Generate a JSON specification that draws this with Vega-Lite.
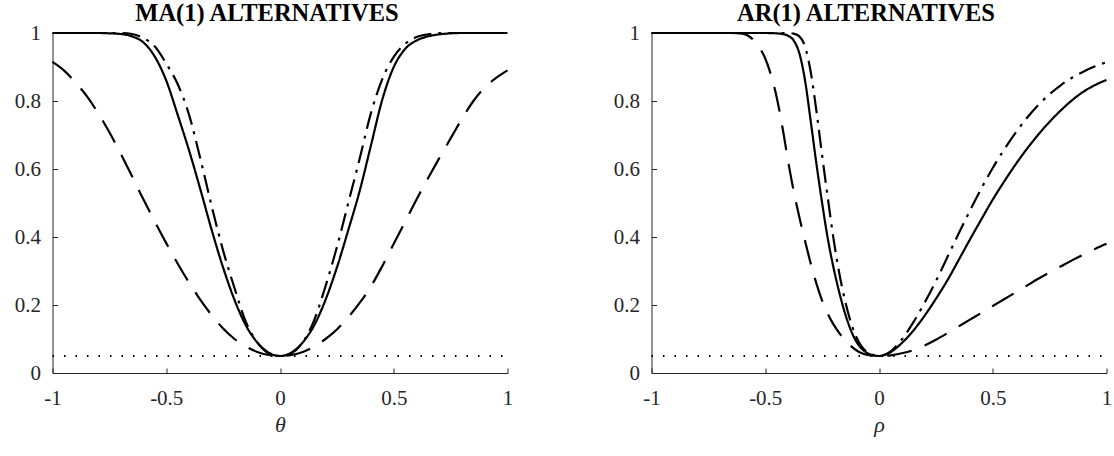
{
"$schema":"https://vega.github.io/schema/vega-lite/v6.json",
"background":"white",
"padding":{"left":13.5,"top":0,"right":5,"bottom":5},
"spacing":144,
"bounds":"flush",
"config":{
 "view":{"stroke":null},
 "font":"Liberation Serif",
 "axis":{"grid":false,"domainColor":"#262626","tickColor":"#262626","labelColor":"#262626","labelFont":"Liberation Serif","labelFontSize":21,"tickSize":-5,"domainWidth":1,"tickWidth":1,"titleFont":"Liberation Serif","titleFontWeight":"normal","titleFontStyle":"italic","titleFontSize":22,"titleColor":"#262626"},
 "title":{"font":"Liberation Serif","fontSize":24.5,"fontWeight":"bold","color":"#000000","offset":-4,"dx":-13}
},
"datasets":{
"ma":[
{"x":-1,"p":1,"s":"solid"},{"x":-0.95,"p":1,"s":"solid"},{"x":-0.9,"p":1,"s":"solid"},{"x":-0.85,"p":1,"s":"solid"},{"x":-0.8,"p":1,"s":"solid"},{"x":-0.75,"p":0.999,"s":"solid"},{"x":-0.7,"p":0.997,"s":"solid"},{"x":-0.65,"p":0.99,"s":"solid"},{"x":-0.6,"p":0.972,"s":"solid"},{"x":-0.55,"p":0.93,"s":"solid"},{"x":-0.5,"p":0.86,"s":"solid"},{"x":-0.45,"p":0.76,"s":"solid"},{"x":-0.4,"p":0.655,"s":"solid"},{"x":-0.35,"p":0.54,"s":"solid"},{"x":-0.3,"p":0.42,"s":"solid"},{"x":-0.25,"p":0.31,"s":"solid"},{"x":-0.2,"p":0.215,"s":"solid"},{"x":-0.15,"p":0.14,"s":"solid"},{"x":-0.1,"p":0.09,"s":"solid"},{"x":-0.05,"p":0.06,"s":"solid"},{"x":0,"p":0.05,"s":"solid"},{"x":0.05,"p":0.06,"s":"solid"},{"x":0.1,"p":0.09,"s":"solid"},{"x":0.15,"p":0.14,"s":"solid"},{"x":0.2,"p":0.215,"s":"solid"},{"x":0.25,"p":0.31,"s":"solid"},{"x":0.3,"p":0.42,"s":"solid"},{"x":0.35,"p":0.535,"s":"solid"},{"x":0.4,"p":0.67,"s":"solid"},{"x":0.45,"p":0.805,"s":"solid"},{"x":0.5,"p":0.9,"s":"solid"},{"x":0.55,"p":0.953,"s":"solid"},{"x":0.6,"p":0.978,"s":"solid"},{"x":0.65,"p":0.99,"s":"solid"},{"x":0.7,"p":0.996,"s":"solid"},{"x":0.75,"p":0.999,"s":"solid"},{"x":0.8,"p":1,"s":"solid"},{"x":0.85,"p":1,"s":"solid"},{"x":0.9,"p":1,"s":"solid"},{"x":0.95,"p":1,"s":"solid"},{"x":1,"p":1,"s":"solid"},
{"x":-1,"p":1,"s":"dashdot"},{"x":-0.9,"p":1,"s":"dashdot"},{"x":-0.8,"p":1,"s":"dashdot"},{"x":-0.7,"p":1,"s":"dashdot"},{"x":-0.65,"p":0.997,"s":"dashdot"},{"x":-0.6,"p":0.985,"s":"dashdot"},{"x":-0.55,"p":0.96,"s":"dashdot"},{"x":-0.5,"p":0.91,"s":"dashdot"},{"x":-0.45,"p":0.85,"s":"dashdot"},{"x":-0.4,"p":0.76,"s":"dashdot"},{"x":-0.35,"p":0.63,"s":"dashdot"},{"x":-0.3,"p":0.49,"s":"dashdot"},{"x":-0.25,"p":0.36,"s":"dashdot"},{"x":-0.2,"p":0.25,"s":"dashdot"},{"x":-0.15,"p":0.15,"s":"dashdot"},{"x":-0.1,"p":0.09,"s":"dashdot"},{"x":-0.05,"p":0.058,"s":"dashdot"},{"x":0,"p":0.05,"s":"dashdot"},{"x":0.05,"p":0.058,"s":"dashdot"},{"x":0.1,"p":0.09,"s":"dashdot"},{"x":0.15,"p":0.155,"s":"dashdot"},{"x":0.2,"p":0.255,"s":"dashdot"},{"x":0.25,"p":0.37,"s":"dashdot"},{"x":0.3,"p":0.5,"s":"dashdot"},{"x":0.35,"p":0.63,"s":"dashdot"},{"x":0.4,"p":0.765,"s":"dashdot"},{"x":0.45,"p":0.865,"s":"dashdot"},{"x":0.5,"p":0.93,"s":"dashdot"},{"x":0.55,"p":0.968,"s":"dashdot"},{"x":0.6,"p":0.988,"s":"dashdot"},{"x":0.65,"p":0.996,"s":"dashdot"},{"x":0.7,"p":1,"s":"dashdot"},{"x":0.8,"p":1,"s":"dashdot"},{"x":0.9,"p":1,"s":"dashdot"},{"x":1,"p":1,"s":"dashdot"},
{"x":-1,"p":0.915,"s":"dashed"},{"x":-0.95,"p":0.89,"s":"dashed"},{"x":-0.9,"p":0.855,"s":"dashed"},{"x":-0.85,"p":0.815,"s":"dashed"},{"x":-0.8,"p":0.765,"s":"dashed"},{"x":-0.75,"p":0.708,"s":"dashed"},{"x":-0.7,"p":0.645,"s":"dashed"},{"x":-0.65,"p":0.578,"s":"dashed"},{"x":-0.6,"p":0.51,"s":"dashed"},{"x":-0.55,"p":0.445,"s":"dashed"},{"x":-0.5,"p":0.382,"s":"dashed"},{"x":-0.45,"p":0.322,"s":"dashed"},{"x":-0.4,"p":0.266,"s":"dashed"},{"x":-0.35,"p":0.215,"s":"dashed"},{"x":-0.3,"p":0.17,"s":"dashed"},{"x":-0.25,"p":0.131,"s":"dashed"},{"x":-0.2,"p":0.1,"s":"dashed"},{"x":-0.15,"p":0.078,"s":"dashed"},{"x":-0.1,"p":0.062,"s":"dashed"},{"x":-0.05,"p":0.053,"s":"dashed"},{"x":0,"p":0.05,"s":"dashed"},{"x":0.05,"p":0.053,"s":"dashed"},{"x":0.1,"p":0.062,"s":"dashed"},{"x":0.15,"p":0.078,"s":"dashed"},{"x":0.2,"p":0.1,"s":"dashed"},{"x":0.25,"p":0.128,"s":"dashed"},{"x":0.3,"p":0.164,"s":"dashed"},{"x":0.35,"p":0.206,"s":"dashed"},{"x":0.4,"p":0.255,"s":"dashed"},{"x":0.45,"p":0.315,"s":"dashed"},{"x":0.5,"p":0.38,"s":"dashed"},{"x":0.55,"p":0.445,"s":"dashed"},{"x":0.6,"p":0.51,"s":"dashed"},{"x":0.65,"p":0.572,"s":"dashed"},{"x":0.7,"p":0.632,"s":"dashed"},{"x":0.75,"p":0.69,"s":"dashed"},{"x":0.8,"p":0.748,"s":"dashed"},{"x":0.85,"p":0.8,"s":"dashed"},{"x":0.9,"p":0.84,"s":"dashed"},{"x":0.95,"p":0.868,"s":"dashed"},{"x":1,"p":0.89,"s":"dashed"},
{"x":-1,"p":0.05,"s":"level"},{"x":1,"p":0.05,"s":"level"}
],
"ar":[
{"x":-1,"p":1,"s":"solid"},{"x":-0.9,"p":1,"s":"solid"},{"x":-0.8,"p":1,"s":"solid"},{"x":-0.7,"p":1,"s":"solid"},{"x":-0.6,"p":1,"s":"solid"},{"x":-0.5,"p":1,"s":"solid"},{"x":-0.45,"p":0.999,"s":"solid"},{"x":-0.425,"p":0.997,"s":"solid"},{"x":-0.4,"p":0.992,"s":"solid"},{"x":-0.375,"p":0.978,"s":"solid"},{"x":-0.35,"p":0.94,"s":"solid"},{"x":-0.325,"p":0.86,"s":"solid"},{"x":-0.3,"p":0.74,"s":"solid"},{"x":-0.275,"p":0.615,"s":"solid"},{"x":-0.25,"p":0.5,"s":"solid"},{"x":-0.225,"p":0.395,"s":"solid"},{"x":-0.2,"p":0.31,"s":"solid"},{"x":-0.175,"p":0.238,"s":"solid"},{"x":-0.15,"p":0.177,"s":"solid"},{"x":-0.125,"p":0.128,"s":"solid"},{"x":-0.1,"p":0.093,"s":"solid"},{"x":-0.075,"p":0.071,"s":"solid"},{"x":-0.05,"p":0.058,"s":"solid"},{"x":-0.025,"p":0.052,"s":"solid"},{"x":0,"p":0.05,"s":"solid"},{"x":0.05,"p":0.061,"s":"solid"},{"x":0.1,"p":0.088,"s":"solid"},{"x":0.15,"p":0.124,"s":"solid"},{"x":0.2,"p":0.168,"s":"solid"},{"x":0.25,"p":0.218,"s":"solid"},{"x":0.3,"p":0.272,"s":"solid"},{"x":0.35,"p":0.332,"s":"solid"},{"x":0.4,"p":0.393,"s":"solid"},{"x":0.45,"p":0.452,"s":"solid"},{"x":0.5,"p":0.51,"s":"solid"},{"x":0.55,"p":0.563,"s":"solid"},{"x":0.6,"p":0.613,"s":"solid"},{"x":0.65,"p":0.659,"s":"solid"},{"x":0.7,"p":0.701,"s":"solid"},{"x":0.75,"p":0.739,"s":"solid"},{"x":0.8,"p":0.773,"s":"solid"},{"x":0.85,"p":0.803,"s":"solid"},{"x":0.9,"p":0.828,"s":"solid"},{"x":0.95,"p":0.847,"s":"solid"},{"x":1,"p":0.862,"s":"solid"},
{"x":-1,"p":1,"s":"dashdot"},{"x":-0.8,"p":1,"s":"dashdot"},{"x":-0.6,"p":1,"s":"dashdot"},{"x":-0.4,"p":1,"s":"dashdot"},{"x":-0.375,"p":0.998,"s":"dashdot"},{"x":-0.35,"p":0.99,"s":"dashdot"},{"x":-0.325,"p":0.96,"s":"dashdot"},{"x":-0.3,"p":0.885,"s":"dashdot"},{"x":-0.275,"p":0.77,"s":"dashdot"},{"x":-0.25,"p":0.64,"s":"dashdot"},{"x":-0.225,"p":0.515,"s":"dashdot"},{"x":-0.2,"p":0.395,"s":"dashdot"},{"x":-0.175,"p":0.295,"s":"dashdot"},{"x":-0.15,"p":0.215,"s":"dashdot"},{"x":-0.125,"p":0.152,"s":"dashdot"},{"x":-0.1,"p":0.106,"s":"dashdot"},{"x":-0.075,"p":0.077,"s":"dashdot"},{"x":-0.05,"p":0.061,"s":"dashdot"},{"x":-0.025,"p":0.053,"s":"dashdot"},{"x":0,"p":0.05,"s":"dashdot"},{"x":0.05,"p":0.063,"s":"dashdot"},{"x":0.1,"p":0.098,"s":"dashdot"},{"x":0.15,"p":0.148,"s":"dashdot"},{"x":0.2,"p":0.206,"s":"dashdot"},{"x":0.25,"p":0.27,"s":"dashdot"},{"x":0.3,"p":0.34,"s":"dashdot"},{"x":0.35,"p":0.41,"s":"dashdot"},{"x":0.4,"p":0.478,"s":"dashdot"},{"x":0.45,"p":0.543,"s":"dashdot"},{"x":0.5,"p":0.603,"s":"dashdot"},{"x":0.55,"p":0.657,"s":"dashdot"},{"x":0.6,"p":0.706,"s":"dashdot"},{"x":0.65,"p":0.75,"s":"dashdot"},{"x":0.7,"p":0.788,"s":"dashdot"},{"x":0.75,"p":0.82,"s":"dashdot"},{"x":0.8,"p":0.847,"s":"dashdot"},{"x":0.85,"p":0.869,"s":"dashdot"},{"x":0.9,"p":0.887,"s":"dashdot"},{"x":0.95,"p":0.902,"s":"dashdot"},{"x":1,"p":0.914,"s":"dashdot"},
{"x":-1,"p":1,"s":"dashed"},{"x":-0.8,"p":1,"s":"dashed"},{"x":-0.65,"p":1,"s":"dashed"},{"x":-0.6,"p":0.998,"s":"dashed"},{"x":-0.575,"p":0.992,"s":"dashed"},{"x":-0.55,"p":0.978,"s":"dashed"},{"x":-0.525,"p":0.957,"s":"dashed"},{"x":-0.5,"p":0.925,"s":"dashed"},{"x":-0.475,"p":0.877,"s":"dashed"},{"x":-0.45,"p":0.812,"s":"dashed"},{"x":-0.425,"p":0.725,"s":"dashed"},{"x":-0.4,"p":0.625,"s":"dashed"},{"x":-0.375,"p":0.535,"s":"dashed"},{"x":-0.35,"p":0.458,"s":"dashed"},{"x":-0.325,"p":0.388,"s":"dashed"},{"x":-0.3,"p":0.322,"s":"dashed"},{"x":-0.275,"p":0.263,"s":"dashed"},{"x":-0.25,"p":0.213,"s":"dashed"},{"x":-0.225,"p":0.174,"s":"dashed"},{"x":-0.2,"p":0.143,"s":"dashed"},{"x":-0.175,"p":0.118,"s":"dashed"},{"x":-0.15,"p":0.097,"s":"dashed"},{"x":-0.125,"p":0.08,"s":"dashed"},{"x":-0.1,"p":0.067,"s":"dashed"},{"x":-0.075,"p":0.058,"s":"dashed"},{"x":-0.05,"p":0.053,"s":"dashed"},{"x":-0.025,"p":0.051,"s":"dashed"},{"x":0,"p":0.05,"s":"dashed"},{"x":0.05,"p":0.052,"s":"dashed"},{"x":0.1,"p":0.058,"s":"dashed"},{"x":0.15,"p":0.067,"s":"dashed"},{"x":0.2,"p":0.081,"s":"dashed"},{"x":0.25,"p":0.098,"s":"dashed"},{"x":0.3,"p":0.117,"s":"dashed"},{"x":0.35,"p":0.137,"s":"dashed"},{"x":0.4,"p":0.157,"s":"dashed"},{"x":0.45,"p":0.177,"s":"dashed"},{"x":0.5,"p":0.197,"s":"dashed"},{"x":0.55,"p":0.217,"s":"dashed"},{"x":0.6,"p":0.237,"s":"dashed"},{"x":0.65,"p":0.257,"s":"dashed"},{"x":0.7,"p":0.277,"s":"dashed"},{"x":0.75,"p":0.296,"s":"dashed"},{"x":0.8,"p":0.314,"s":"dashed"},{"x":0.85,"p":0.332,"s":"dashed"},{"x":0.9,"p":0.349,"s":"dashed"},{"x":0.95,"p":0.365,"s":"dashed"},{"x":1,"p":0.38,"s":"dashed"},
{"x":-1,"p":0.05,"s":"level"},{"x":1,"p":0.05,"s":"level"}
]
},
"hconcat":[
{
 "width":455,"height":340,
 "title":"MA(1) ALTERNATIVES",
 "data":{"name":"ma"},
 "mark":{"type":"line","interpolate":"monotone","color":"black"},
 "encoding":{
  "x":{"field":"x","type":"quantitative","scale":{"domain":[-1,1],"nice":false},"axis":{"title":"θ","values":[-1,-0.5,0,0.5,1],"format":"~g","labelExpr":"replace(datum.label, '−', '-')","labelFont":"Liberation Serif","labelFontSize":21,"labelPadding":19,"titlePadding":6,"labelFlush":false}},
  "y":{"field":"p","type":"quantitative","scale":{"domain":[0,1],"nice":false},"axis":{"title":null,"values":[0,0.2,0.4,0.6,0.8,1],"format":"~g","labelFont":"Liberation Serif","labelFontSize":21,"labelPadding":17}},
  "detail":{"field":"s"},
  "strokeDash":{"field":"s","type":"nominal","scale":{"domain":["solid","dashdot","dashed","level"],"range":[[1,0],[18,7,3,7],[25,14],[1.5,10]]},"legend":null},
  "strokeWidth":{"field":"s","type":"nominal","scale":{"domain":["solid","dashdot","dashed","level"],"range":[2.2,2.2,2.2,1.4]},"legend":null}
 }
},
{
 "width":455,"height":340,
 "title":"AR(1) ALTERNATIVES",
 "data":{"name":"ar"},
 "mark":{"type":"line","interpolate":"monotone","color":"black"},
 "encoding":{
  "x":{"field":"x","type":"quantitative","scale":{"domain":[-1,1],"nice":false},"axis":{"title":"ρ","values":[-1,-0.5,0,0.5,1],"format":"~g","labelExpr":"replace(datum.label, '−', '-')","labelFont":"Liberation Serif","labelFontSize":21,"labelPadding":19,"titlePadding":6,"labelFlush":false}},
  "y":{"field":"p","type":"quantitative","scale":{"domain":[0,1],"nice":false},"axis":{"title":null,"values":[0,0.2,0.4,0.6,0.8,1],"format":"~g","labelFont":"Liberation Serif","labelFontSize":21,"labelPadding":17}},
  "detail":{"field":"s"},
  "strokeDash":{"field":"s","type":"nominal","scale":{"domain":["solid","dashdot","dashed","level"],"range":[[1,0],[18,7,3,7],[25,14],[1.5,10]]},"legend":null},
  "strokeWidth":{"field":"s","type":"nominal","scale":{"domain":["solid","dashdot","dashed","level"],"range":[2.2,2.2,2.2,1.4]},"legend":null}
 }
}
]
}
